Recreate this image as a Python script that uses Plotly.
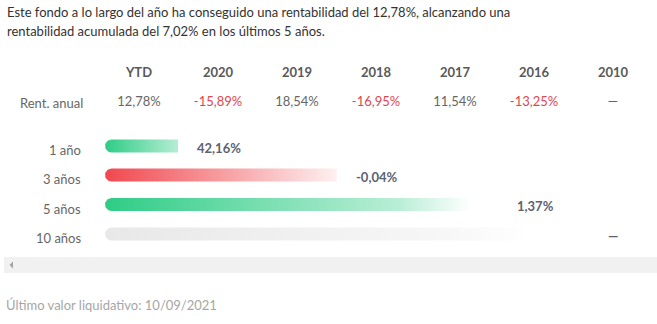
import plotly.graph_objects as go
import numpy as np

# ---- data ----
intro_text = ("Este fondo a lo largo del año ha conseguido una rentabilidad del 12,78%, alcanzando una",
              "rentabilidad acumulada del 7,02% en los últimos 5 años.")
years = ["YTD", "2020", "2019", "2018", "2017", "2016", "2010"]
annual_returns = [12.78, -15.89, 18.54, -16.95, 11.54, -13.25, None]
periods = ["1 año", "3 años", "5 años", "10 años"]
period_returns = [42.16, -0.04, 1.37, None]
bar_fill = [0.151, 0.479, 0.812, 1.0]   # filled share of each bar track
footer_text = "Último valor liquidativo: 10/09/2021"

W, H = 657, 324
FONT = "Lato"
FS = 13
GREEN = (46, 204, 133)
RED = (240, 72, 78)
GREY = (232, 232, 232)


def fmt(v):
    if v is None:
        return "—"
    return f"{v:.2f}".replace(".", ",") + "%"


def rgba(c, a):
    return f"rgba({c[0]},{c[1]},{c[2]},{a})"


fig = go.Figure()

# ---- table ----
col_x = [139 + 79 * i for i in range(len(years))]
fig.add_trace(go.Scatter(
    x=col_x, y=[74] * len(years), mode="text", text=[f"<b>{y}</b>" for y in years],
    textfont=dict(family=FONT, size=FS, color="#595959"), hoverinfo="skip", showlegend=False))
fig.add_trace(go.Scatter(
    x=col_x, y=[103] * len(years), mode="text", text=[fmt(v) for v in annual_returns],
    textfont=dict(family=FONT, size=FS,
                  color=["#e0464d" if (v is not None and v < 0) else "#666666" for v in annual_returns]),
    hoverinfo="skip", showlegend=False))

# ---- bars ----
row_y = [146, 175, 204.5, 234]
bar_h = 13
track_x0, track_x1 = 105, 589
scale = (track_x1 - track_x0)  # px per unit of bar_fill (axis xaxis2)
styles = [
    (GREEN, [[0, 1.0], [1, 0.35]]),
    (RED, [[0, 1.0], [1, 0.08]]),
    (GREEN, [[0, 1.0], [0.75, 0.33], [0.93, 0.0], [1, 0.0]]),
    (GREY, [[0, 1.0], [0.7, 0.35], [0.88, 0.0], [1, 0.0]]),
]
r = bar_h / 2
r_u = r / scale
for i, (f, yc) in enumerate(zip(bar_fill, row_y)):
    th = np.linspace(np.pi / 2, 3 * np.pi / 2, 24)
    xs = list(r_u + r_u * np.cos(th)) + [f, f]
    ys = list(yc - r * np.sin(th)) + [yc + r, yc - r]
    xs.append(xs[0]); ys.append(ys[0])
    col, stops = styles[i]
    fig.add_trace(go.Scatter(
        x=xs, y=ys, xaxis="x2", yaxis="y", mode="lines", fill="toself", line=dict(width=0),
        fillgradient=dict(type="horizontal", colorscale=[[s, rgba(col, a)] for s, a in stops]),
        hoverinfo="skip", showlegend=False))

annotations = []
for i, (p, v, f, yc) in enumerate(zip(periods, period_returns, bar_fill, row_y)):
    annotations.append(dict(x=83, y=yc + 4, xref="x", yref="y", text=p, showarrow=False,
                            xanchor="right", yanchor="middle",
                            font=dict(family=FONT, size=FS, color="#666666")))
    annotations.append(dict(x=f, y=yc + 1.5, xref="x2", yref="y", text=f"<b>{fmt(v)}</b>", showarrow=False,
                            xanchor="left", yanchor="middle", xshift=17,
                            font=dict(family=FONT, size=FS, color="#5b6270")))

# ---- static text ----
annotations += [
    dict(x=5, y=12, text=intro_text[0], xref="x", yref="y", showarrow=False, xanchor="left",
         yanchor="middle", font=dict(family=FONT, size=FS, color="#333333")),
    dict(x=5, y=31, text=intro_text[1], xref="x", yref="y", showarrow=False, xanchor="left",
         yanchor="middle", font=dict(family=FONT, size=FS, color="#333333")),
    dict(x=18, y=103, text="Rent. anual", xref="x", yref="y", showarrow=False, xanchor="left",
         yanchor="middle", font=dict(family=FONT, size=FS, color="#666666")),
    dict(x=4, y=305, text=footer_text, xref="x", yref="y", showarrow=False, xanchor="left",
         yanchor="middle", font=dict(family=FONT, size=FS, color="#a6a6a6")),
]

shapes = [
    dict(type="rect", xref="x", yref="y", x0=4, x1=657, y0=257, y1=273,
         fillcolor="#f1f1f1", line=dict(width=0), layer="below"),
    dict(type="path", xref="x", yref="y", path="M 13 261.5 L 9.5 265 L 13 268.5 Z",
         fillcolor="#a3a3a3", line=dict(width=0)),
]

fig.update_layout(
    width=W, height=H, margin=dict(l=0, r=0, t=0, b=0),
    paper_bgcolor="white", plot_bgcolor="rgba(0,0,0,0)",
    xaxis=dict(range=[0, W], domain=[0, 1], visible=False, fixedrange=True),
    xaxis2=dict(range=[0, 1], domain=[track_x0 / W, track_x1 / W], anchor="y",
                visible=False, fixedrange=True),
    yaxis=dict(range=[H, 0], visible=False, fixedrange=True),
    annotations=annotations, shapes=shapes, showlegend=False,
)

fig.write_html("out.html", config={"displayModeBar": False})
